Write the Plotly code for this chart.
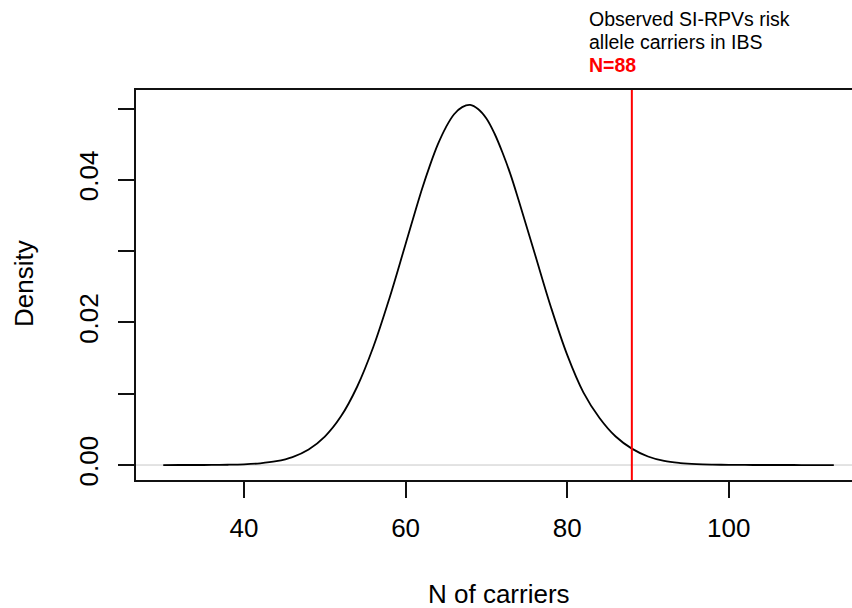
import plotly.graph_objects as go

# Density curve
n_carriers = [30, 32, 34, 36, 38, 40, 42, 44, 46, 48, 50, 52, 54, 56, 58, 60, 62, 63, 64, 65, 66,
              67, 68, 69, 70, 71, 72, 73, 74, 76, 78, 80, 82, 84, 86, 88, 90, 92, 94, 96, 98,
              100, 102, 104, 106, 108, 110, 112, 113]
density = [0.0, 0.000001, 0.000003, 0.000012, 0.00004, 0.000103, 0.000244, 0.00054, 0.00112,
           0.00218, 0.00399, 0.00683, 0.01098, 0.01655, 0.0234, 0.0310, 0.0386, 0.0420, 0.0450,
           0.0474, 0.0492, 0.0502, 0.0505, 0.0499, 0.0486, 0.0465, 0.0438, 0.0407, 0.0371,
           0.0296, 0.0221, 0.01545, 0.0102, 0.0066, 0.0040, 0.0023, 0.0012, 0.00057, 0.00028,
           0.00013, 0.000058, 0.000025, 0.00001, 0.000004, 0.0000015, 0.0000005, 0.0, 0.0, 0.0]
observed_n = 88

x_ticks = [40, 60, 80, 100]
y_ticks = [0.0, 0.01, 0.02, 0.03, 0.04, 0.05]
y_ticktext = ["0.00", "", "0.02", "", "0.04", ""]

FONT = "Liberation Sans, Arial, Helvetica, sans-serif"

fig = go.Figure()
fig.add_trace(go.Scatter(x=n_carriers, y=density, mode="lines",
                         line=dict(color="black", width=1.8, shape="spline"),
                         showlegend=False, hoverinfo="skip"))

# zero line (grey) across the plot
fig.add_shape(type="line", xref="paper", yref="y", x0=0, x1=1, y0=0, y1=0,
              line=dict(color="#c8c8c8", width=1), layer="below")
# observed value line
fig.add_shape(type="line", xref="x", yref="paper", x0=observed_n, x1=observed_n, y0=0, y1=1,
              line=dict(color="#ff0000", width=2))

W, H = 852, 608
L, R, T, B = 136, 0, 90, 128
pw, ph = W - L - R, H - T - B

def px_x(p):
    return (p - L) / pw

def px_y(p):
    return (H - B - p) / ph

fig.add_annotation(text="Observed SI-RPVs risk", xref="paper", yref="paper",
                   x=px_x(587), y=px_y(19), xanchor="left", yanchor="middle",
                   showarrow=False, font=dict(family=FONT, size=19.5, color="black"))
fig.add_annotation(text="allele carriers in IBS", xref="paper", yref="paper",
                   x=px_x(587), y=px_y(42), xanchor="left", yanchor="middle",
                   showarrow=False, font=dict(family=FONT, size=19.5, color="black"))
fig.add_annotation(text="<b>N=88</b>", xref="paper", yref="paper",
                   x=px_x(587), y=px_y(65), xanchor="left", yanchor="middle",
                   showarrow=False, font=dict(family=FONT, size=19.5, color="#ff0000"))

# axis titles
fig.add_annotation(text="N of carriers", xref="paper", yref="paper",
                   x=px_x(499), y=px_y(594), xanchor="center", yanchor="middle",
                   showarrow=False, font=dict(family=FONT, size=26, color="black"))
fig.add_annotation(text="Density", xref="paper", yref="paper",
                   x=px_x(24), y=px_y(284), xanchor="center", yanchor="middle",
                   textangle=-90, showarrow=False, font=dict(family=FONT, size=26, color="black"))

fig.update_layout(
    width=W, height=H,
    margin=dict(l=L, r=R, t=T, b=B, pad=0),
    paper_bgcolor="white", plot_bgcolor="white",
    font=dict(family=FONT, size=26, color="black"),
    showlegend=False,
)
fig.update_xaxes(range=[26.63, 115.25], tickvals=x_ticks, ticktext=[str(v) for v in x_ticks],
                 ticks="outside", ticklen=16, tickwidth=1.5, tickcolor="#111",
                 showline=True, linecolor="#111", linewidth=2, mirror=True,
                 showgrid=False, zeroline=False, ticklabelstandoff=8,
                 tickfont=dict(family=FONT, size=26, color="black"))
fig.update_yaxes(range=[-0.0021, 0.0526], tickvals=y_ticks, ticktext=y_ticktext,
                 ticks="outside", ticklen=16, tickwidth=1.5, tickcolor="#111",
                 showline=True, linecolor="#111", linewidth=2, mirror=False,
                 showgrid=False, zeroline=False, tickangle=-90, ticklabelstandoff=10,
                 tickfont=dict(family=FONT, size=26, color="black"))

fig.write_html("out.html")
